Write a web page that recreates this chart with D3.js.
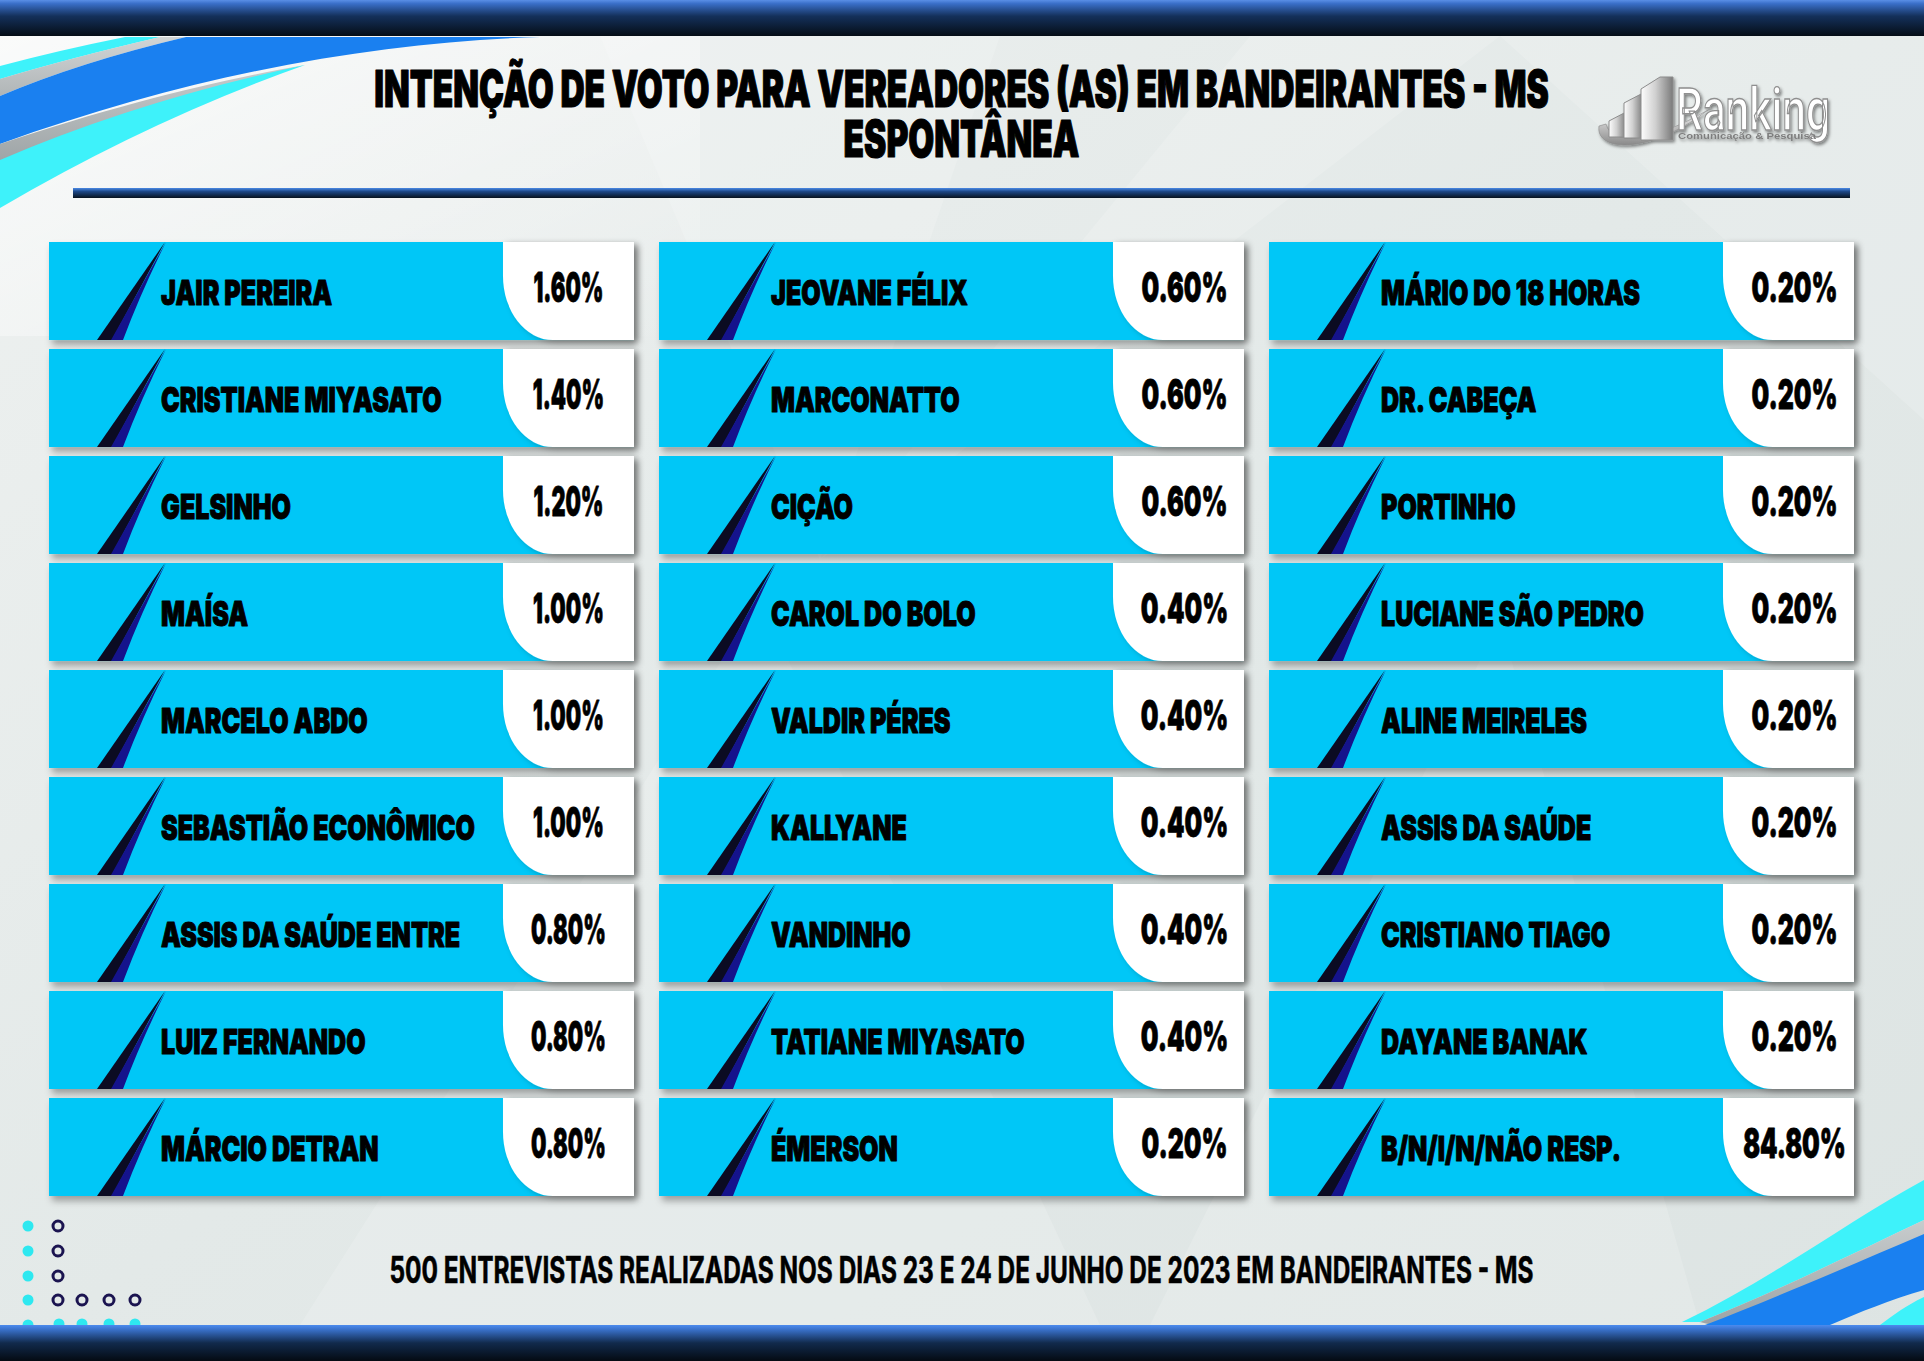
<!DOCTYPE html>
<html><head><meta charset="utf-8">
<script src="https://cdn.jsdelivr.net/npm/d3@7"></script>
<style>html,body{margin:0;padding:0;background:#e2e8e7;} svg{display:block}</style>
</head><body>
<svg id="chart" width="1924" height="1361"></svg>
<script>
// ---------- DATA ----------
const title1 = "INTENÇÃO DE VOTO PARA VEREADORES (AS) EM BANDEIRANTES - MS";
const title2 = "ESPONTÂNEA";
const footer = "500 ENTREVISTAS REALIZADAS NOS DIAS 23 E 24 DE JUNHO DE 2023 EM BANDEIRANTES - MS";
const brand = "Ranking";
const brandSub = "Comunicação & Pesquisa";

const names1 = ["JAIR PEREIRA","CRISTIANE MIYASATO","GELSINHO","MAÍSA","MARCELO ABDO","SEBASTIÃO ECONÔMICO","ASSIS DA SAÚDE ENTRE","LUIZ FERNANDO","MÁRCIO DETRAN"];
const values1 = [1.60,1.40,1.20,1.00,1.00,1.00,0.80,0.80,0.80];
const names2 = ["JEOVANE FÉLIX","MARCONATTO","CIÇÃO","CAROL DO BOLO","VALDIR PÉRES","KALLYANE","VANDINHO","TATIANE MIYASATO","ÉMERSON"];
const values2 = [0.60,0.60,0.60,0.40,0.40,0.40,0.40,0.40,0.20];
const names3 = ["MÁRIO DO 18 HORAS","DR. CABEÇA","PORTINHO","LUCIANE SÃO PEDRO","ALINE MEIRELES","ASSIS DA SAÚDE","CRISTIANO TIAGO","DAYANE BANAK","B/N/I/N/NÃO RESP."];
const values3 = [0.20,0.20,0.20,0.20,0.20,0.20,0.20,0.20,84.80];

// ---------- SETUP ----------
const W = 1924, H = 1361;
const svg = d3.select("#chart");
const defs = svg.append("defs");
const HEAVY = "Inter, 'Liberation Sans', Arial, sans-serif";

function grad(id, stops, x2=0, y2=1){
  const g = defs.append("linearGradient").attr("id",id)
    .attr("x1",0).attr("y1",0).attr("x2",x2).attr("y2",y2);
  stops.forEach(([o,c,op])=>g.append("stop").attr("offset",o).attr("stop-color",c).attr("stop-opacity",op==null?1:op));
}
grad("bg", [[0,"#eef1f0"],[0.5,"#e3e9e8"],[1,"#dde4e3"]], 1, 1);
grad("barTop", [[0,"#5a8fe6"],[0.1,"#3a6fc8"],[0.45,"#14305a"],[1,"#050d16"]]);
grad("barBot", [[0,"#4c8bee"],[0.12,"#3a72cc"],[0.5,"#112a4c"],[1,"#040a12"]]);
grad("divider", [[0,"#4a8ae6"],[0.35,"#1d4888"],[1,"#07121e"]]);
grad("grayBand", [[0,"#c8cccd"],[1,"#9ea4a6"]]);
grad("silver", [[0,"#fdfdfd"],[0.45,"#d0d0d0"],[1,"#7a7a7a"]], 1, 0);
grad("silverV", [[0,"#f2f2f2"],[1,"#8a8a8a"]]);
grad("glow", [[0,"#ffffff",0.7],[1,"#ffffff",0]], 1, 1);

const shadow = defs.append("filter").attr("id","shadow")
  .attr("x","-5%").attr("y","-10%").attr("width","112%").attr("height","130%");
shadow.append("feDropShadow").attr("dx",3).attr("dy",5).attr("stdDeviation",3.5)
  .attr("flood-color","#000").attr("flood-opacity",0.32);
const boxShadow = defs.append("filter").attr("id","boxShadow")
  .attr("x","-10%").attr("y","-10%").attr("width","125%").attr("height","125%");
boxShadow.append("feDropShadow").attr("dx",4).attr("dy",2).attr("stdDeviation",3)
  .attr("flood-color","#000").attr("flood-opacity",0.3);
const logoShadow = defs.append("filter").attr("id","logoShadow");
logoShadow.append("feDropShadow").attr("dx",1.5).attr("dy",2).attr("stdDeviation",1.5)
  .attr("flood-color","#000").attr("flood-opacity",0.45);

// ---------- BACKGROUND ----------
svg.append("rect").attr("width",W).attr("height",H).attr("fill","url(#bg)");
const facets = [
  [[600,36],[1000,36],[820,560]],
  [[820,560],[1250,36],[1500,36]],
  [[300,1325],[760,600],[1100,1325]],
  [[1150,1325],[1500,620],[1700,1325]],
  [[1500,36],[1924,36],[1924,420]]
];
svg.append("g").selectAll("polygon").data(facets).join("polygon")
  .attr("points", d=>d.map(p=>p.join(",")).join(" "))
  .attr("fill","#ffffff").attr("opacity",0.16);
svg.append("rect").attr("x",0).attr("y",36).attr("width",700).attr("height",300).attr("fill","url(#glow)");

// top-left swoosh
const tl = svg.append("g");
tl.append("path").attr("d","M0,66 Q60,50 125,37 L160,37 Q70,58 0,79 Z").attr("fill","#3ef2fa");
tl.append("path").attr("d","M0,79 Q70,58 160,37 L186,37 Q80,62 0,96 Z").attr("fill","url(#grayBand)").attr("opacity",0.8);
tl.append("path").attr("d","M0,96 Q80,62 186,37 L540,37 C385,42 205,70 0,144 Z").attr("fill","#1a80f0");
tl.append("path").attr("d","M0,144 C120,104 220,80 305,65 Q130,112 0,162 Z").attr("fill","url(#grayBand)");
tl.append("path").attr("d","M0,160 Q140,100 305,65 Q150,120 0,208 Z").attr("fill","#3ef2fa");

// bottom-right swoosh
const br = svg.append("g");
br.append("path").attr("d","M1924,1180 C1850,1220 1770,1280 1682,1322 L1700,1322 C1780,1290 1850,1255 1924,1220 Z").attr("fill","#3ef2fa");
br.append("path").attr("d","M1924,1220 C1850,1255 1780,1290 1700,1322 L1712,1325 C1780,1300 1850,1268 1924,1236 Z").attr("fill","url(#grayBand)");
br.append("path").attr("d","M1924,1234 C1840,1270 1770,1300 1705,1325 L1830,1325 C1860,1312 1890,1300 1924,1290 Z").attr("fill","#1a80f0");
br.append("path").attr("d","M1924,1297 C1905,1306 1895,1314 1880,1325 L1924,1325 Z").attr("fill","#3ef2fa");

// bottom-left dots
const dots = svg.append("g");
[1226,1251,1276,1300,1325].forEach(y=>dots.append("circle").attr("cx",28).attr("cy",y).attr("r",5.5).attr("fill","#2ee8f0"));
[59,82,109,135].forEach(x=>dots.append("circle").attr("cx",x).attr("cy",1324).attr("r",5.5).attr("fill","#2ee8f0"));
[[58,1226],[58,1251],[58,1276],[58,1300],[82,1300],[109,1300],[135,1300]].forEach(([x,y])=>
  dots.append("circle").attr("cx",x).attr("cy",y).attr("r",5).attr("fill","none").attr("stroke","#1b1450").attr("stroke-width",3));

// bars
svg.append("rect").attr("x",0).attr("y",0).attr("width",W).attr("height",36).attr("fill","url(#barTop)");
svg.append("rect").attr("x",0).attr("y",1325).attr("width",W).attr("height",36).attr("fill","url(#barBot)");
svg.append("rect").attr("x",73).attr("y",188).attr("width",1777).attr("height",10).attr("fill","url(#divider)");

// ---------- TEXT HELPERS ----------
function measure(text, size, weight, family){
  const t = svg.append("text").text(text).attr("font-family",family||HEAVY).attr("font-weight",weight).attr("font-size",size);
  const w = t.node().getComputedTextLength(); t.remove(); return w;
}

// title: one text element, two lines, uniform horizontal compression
const titleSize = 51;
const titleScale = 1175 / measure(title1, titleSize, 900);
const titleText = svg.append("text")
  .attr("font-family",HEAVY).attr("font-weight",900).attr("font-size",titleSize)
  .attr("text-anchor","middle").attr("fill","#000")
  .attr("stroke","#000").attr("stroke-width",1.2).attr("stroke-linejoin","round")
  .attr("transform",`translate(961.5,0) scale(${titleScale},1)`);
titleText.append("tspan").attr("x",0).attr("y",107).text(title1);
titleText.append("tspan").attr("x",0).attr("y",157).text(title2);

// footer
const footScale = 1145 / measure(footer, 37, 700);
svg.append("text").text(footer)
  .attr("font-family",HEAVY).attr("font-weight",700).attr("font-size",37)
  .attr("text-anchor","middle").attr("fill","#000")
  .attr("stroke","#000").attr("stroke-width",0.6)
  .attr("transform",`translate(961.5,1283) scale(${footScale},1)`);

// ---------- LOGO ----------
const logo = svg.append("g").attr("filter","url(#logoShadow)");
logo.append("path").attr("d","M1599,126 C1595,153 1652,154 1708,110 C1652,142 1612,147 1606,124 Z").attr("fill","url(#silverV)").attr("stroke","#8a8a8a").attr("stroke-width",0.6);
const logoBars = [
  "M1609,137 L1609,121 L1626,112 L1626,137 Z",
  "M1624,138 L1624,103 L1643,93 L1643,138 Z",
  "M1641,140 L1641,89 L1660,77 L1673,77 L1673,140 Z"
];
logo.selectAll("path.lb").data(logoBars).join("path").attr("class","lb")
  .attr("d",d=>d).attr("fill","url(#silver)").attr("stroke","#8c8c8c").attr("stroke-width",1);
const LOGOFONT = "Roboto, 'Liberation Sans', sans-serif";
const rkScale = 154 / measure(brand, 60, 500, LOGOFONT);
const rk = logo.append("text").attr("font-family",LOGOFONT)
  .attr("transform",`translate(1676,130) scale(${rkScale},1)`);
rk.append("tspan").attr("x",0).attr("y",0).attr("font-size",60).attr("font-weight",500)
  .attr("fill","#ffffff").attr("stroke","#8f8f8f").attr("stroke-width",1.4).text(brand);
rk.append("tspan").attr("x",2/rkScale).attr("y",9).attr("font-size",9.5).attr("font-weight",700)
  .attr("font-family","'Liberation Sans', Arial, sans-serif")
  .attr("fill","#7d7d7d").attr("stroke","none")
  .attr("textLength",138/rkScale).attr("lengthAdjust","spacingAndGlyphs").text(brandSub);

// ---------- CARDS ----------
const columns = [
  {names:names1, values:values1},
  {names:names2, values:values2},
  {names:names3, values:values3}
];
const records = [];
columns.forEach((c,ci)=>c.names.forEach((n,ri)=>records.push({col:ci,row:ri,name:n,value:c.values[ri]})));

const xCol = d3.scaleBand().domain([0,1,2]).range([49,1854]).paddingInner(0.041);
const yRow = d3.scaleBand().domain(d3.range(9)).range([242,1196]).paddingInner(0.084);
const fmt = v => d3.format(".2f")(v) + "%";

const cw = xCol.bandwidth(), ch = yRow.bandwidth();
const boxW = 131, rx = 50, ry = 64;

const nameSize = 34.5, valSize = 41;
const nameScale = 314 / measure("SEBASTIÃO ECONÔMICO", nameSize, 900);
const valScale1 = 70 / measure(fmt(1.6), valSize, 900);
const valScale2 = 86 / measure(fmt(0.6), valSize, 900);

const cards = svg.append("g").selectAll("g.card").data(records).join("g").attr("class","card")
  .attr("transform", d=>`translate(${xCol(d.col)},${yRow(d.row)})`);

cards.append("rect").attr("width",cw).attr("height",ch).attr("fill","#03c7f7").attr("filter","url(#shadow)");
// slash
cards.append("path").attr("d",`M48,${ch} L63,${ch} L116,0 Z`).attr("fill","#0b0b22");
cards.append("path").attr("d",`M62,${ch} L74,${ch} Q92,50 117,0 Z`).attr("fill","#15138c");
// white value box with rounded bottom-left
cards.append("path")
  .attr("d",`M${cw-boxW},0 L${cw},0 L${cw},${ch} L${cw-boxW+rx},${ch} A${rx},${ry} 0 0 1 ${cw-boxW},${ch-ry} Z`)
  .attr("fill","#ffffff").attr("filter","url(#boxShadow)");

cards.append("text").text(d=>d.name)
  .attr("font-family",HEAVY).attr("font-weight",900).attr("font-size",nameSize)
  .attr("fill","#000").attr("stroke","#000").attr("stroke-width",1).attr("stroke-linejoin","round")
  .attr("transform",`translate(112,63) scale(${nameScale},1)`);

cards.append("text").text(d=>fmt(d.value))
  .attr("font-family",HEAVY).attr("font-weight",900).attr("font-size",valSize)
  .attr("text-anchor","middle")
  .attr("fill","#000").attr("stroke","#000").attr("stroke-width",0.8).attr("stroke-linejoin","round")
  .attr("transform",d=>`translate(${cw-boxW/2+(d.col===0?0:6)},60) scale(${d.col===0?valScale1:valScale2},1)`);
</script>
</body></html>
